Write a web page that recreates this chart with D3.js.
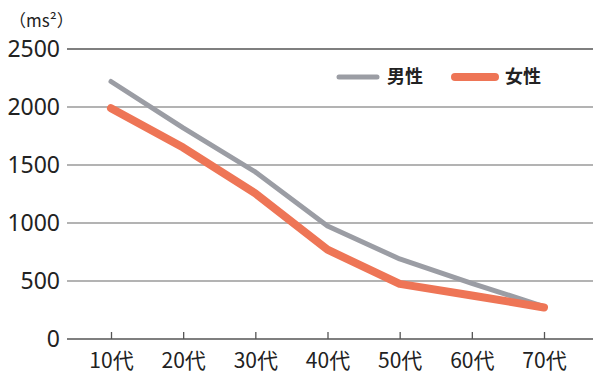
<!DOCTYPE html>
<html>
<head>
<meta charset="utf-8">
<script src="https://cdn.jsdelivr.net/npm/d3@7"></script>
<style>
  body { margin: 0; background: #fff; }
  svg { display: block; font-family: "Noto Sans CJK JP", "Noto Sans", sans-serif; }
</style>
</head>
<body>
<svg width="608" height="384"></svg>
<script>
// age groups along the x axis
var ageGroups = ["10代", "20代", "30代", "40代", "50代", "60代", "70代"];
// values (ms²)
var maleValues = [2220, 1820, 1440, 975, 690, 480, 280];
var femaleValues = [1990, 1650, 1255, 770, 475, 375, 272];
var yTicks = [0, 500, 1000, 1500, 2000, 2500];
var seriesNames = ["男性", "女性"];
var seriesColors = ["#9b9da4", "#ee7556"];

var svg = d3.select("svg");

var x = d3.scalePoint().domain(ageGroups).range([111, 544]);
var y = d3.scaleLinear().domain([0, 2500]).range([339, 49]);
var plotLeft = 67, plotRight = 593;

// gridlines
svg.append("g").selectAll("line")
  .data(yTicks)
  .enter().append("line")
  .attr("x1", plotLeft).attr("x2", plotRight)
  .attr("y1", d => y(d)).attr("y2", d => y(d))
  .attr("stroke", d => (d === 0 || d === 2500) ? "#555" : "#9a9a9a")
  .attr("stroke-width", d => (d === 0 || d === 2500) ? 1.6 : 1.3);

// y labels
svg.append("g").selectAll("text")
  .data(yTicks)
  .enter().append("text")
  .attr("x", 60)
  .attr("y", d => y(d))
  .attr("dy", "0.35em")
  .attr("text-anchor", "end")
  .attr("font-size", 23)
  .attr("font-family", "Noto Sans")
  .attr("fill", "#222")
  .text(d => d);

// unit
svg.append("text")
  .attr("x", 9).attr("y", 27)
  .attr("font-size", 17)
  .attr("fill", "#222")
  .text("（ms²）");

// x axis ticks and labels
var xAxis = d3.axisBottom(x).tickSize(-7).tickPadding(14);
var gx = svg.append("g")
  .attr("transform", "translate(0," + y(0) + ")")
  .call(xAxis);
gx.select(".domain").remove();
gx.selectAll(".tick line").attr("stroke", "#555").attr("stroke-width", 1.3);
gx.selectAll(".tick text")
  .attr("font-size", 21)
  .attr("fill", "#222")
  .attr("font-family", "Noto Sans CJK JP");

// lines
var line = d3.line()
  .x((d, i) => x(ageGroups[i]))
  .y(d => y(d));

svg.append("path")
  .datum(maleValues)
  .attr("d", line)
  .attr("fill", "none")
  .attr("stroke", seriesColors[0])
  .attr("stroke-width", 5)
  .attr("stroke-linecap", "round")
  .attr("stroke-linejoin", "round");

svg.append("path")
  .datum(femaleValues)
  .attr("d", line)
  .attr("fill", "none")
  .attr("stroke", seriesColors[1])
  .attr("stroke-width", 8)
  .attr("stroke-linecap", "round")
  .attr("stroke-linejoin", "round");

// legend
var legendX = [339, 455];
var legendW = [38, 40];
var legendSW = [5, 8];
var legend = svg.append("g").selectAll("g")
  .data(seriesNames)
  .enter().append("g");
legend.append("line")
  .attr("x1", (d, i) => legendX[i])
  .attr("x2", (d, i) => legendX[i] + legendW[i])
  .attr("y1", 77).attr("y2", 77)
  .attr("stroke", (d, i) => seriesColors[i])
  .attr("stroke-width", (d, i) => legendSW[i])
  .attr("stroke-linecap", "round");
legend.append("text")
  .attr("x", (d, i) => legendX[i] + legendW[i] + 10)
  .attr("y", 77)
  .attr("dy", "0.36em")
  .attr("font-size", 18)
  .attr("font-weight", "bold")
  .attr("fill", "#222")
  .text(d => d);
</script>
</body>
</html>
